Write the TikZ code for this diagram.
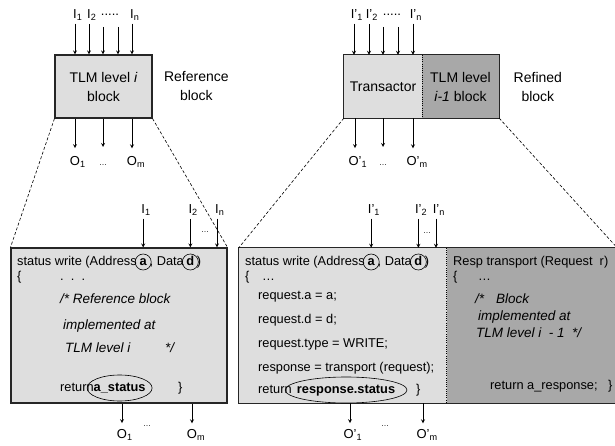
\documentclass[tikz,border=0pt]{standalone}
\usepackage{fontspec}
\setmainfont{Liberation Sans}
\usetikzlibrary{positioning,shapes.geometric}

\definecolor{lightfill}{gray}{0.87}
\definecolor{darkfill}{gray}{0.66}

\newcommand{\codesize}{\fontsize{12.8}{15}\selectfont}
\newcommand{\notesize}{\fontsize{13.5}{15}\selectfont\itshape}
\newcommand{\labelsize}{\fontsize{14}{19}\selectfont}
\newcommand{\pinsize}{\fontsize{13}{15}\selectfont}

\tikzset{
  blk/.style={draw=black!85,line width=1.1pt},
  divline/.style={dash pattern=on 1pt off 1.2pt,line width=0.8pt},
  zoomline/.style={dash pattern=on 3pt off 2pt,line width=0.6pt},
  sig/.style={->,line width=0.8pt},
  pin/.style={inner sep=3pt,font=\pinsize},
  dots/.style={inner sep=0pt,font=\fontsize{8}{8}\selectfont},
  txt/.style={inner sep=0pt,text height=9.5pt,text depth=2.5pt,font=\codesize},
  code/.style={txt,anchor=west},
  note/.style={code,font=\notesize},
  ring/.style={txt,circle,draw,line width=0.6pt,minimum size=16pt},
  oval/.style={txt,ellipse,draw,line width=0.6pt,minimum height=26pt,inner xsep=-3pt}
}

\begin{document}
\begin{tikzpicture}[x=1pt,y=-1pt,>=stealth]
  \useasboundingbox (0,0) rectangle (615,446);

  % upper blocks
  \node[blk,fill=lightfill,minimum width=97pt,minimum height=63pt,inner sep=0pt,
        font=\labelsize,align=center] (refblk) at (103.5,86.5) {TLM level \textit{i}\\block};
  \node[font=\labelsize,align=center,right=8pt of refblk] (reflbl) {Reference\\block};

  \node[fill=lightfill,minimum width=78pt,minimum height=63pt,inner sep=0pt,
        font=\labelsize] (trans) at (383,86.5) {Transactor};
  \node[fill=darkfill,minimum width=77pt,minimum height=63pt,inner sep=0pt,
        font=\labelsize,align=center] (tlm) at (460.5,86.5) {TLM level\\\textit{i-1} block};
  \draw[blk] (trans.north west) rectangle (tlm.south east);
  \draw[divline] (trans.north east) -- (trans.south east);
  \node[font=\labelsize,align=center,right=11pt of tlm] (reflbl2) {Refined\\block};

  % lower blocks
  \node[blk,fill=lightfill,minimum width=216pt,minimum height=155pt,inner sep=0pt] (lbox) at (119,325.5) {};
  \node[fill=lightfill,minimum width=208pt,minimum height=155pt,inner sep=0pt] (rbox) at (343,325.5) {};
  \node[fill=darkfill,minimum width=170pt,minimum height=155pt,inner sep=0pt] (rdark) at (532,325.5) {};
  \draw[blk] (rbox.north west) rectangle (rdark.south east);
  \draw[divline] (rdark.north west) -- (rdark.south west);

  % zoom lines
  \draw[zoomline] (refblk.south west) -- (lbox.north west);
  \draw[zoomline] (refblk.south east) -- (lbox.north east);
  \draw[zoomline] (trans.south west) -- (rbox.north west);
  \draw[zoomline] (tlm.south east) -- (rdark.north east);

  % reference block code
  \node[code] (lsw) at (17,262) {status write (Address};
  \node[ring,right=-2pt of lsw] (la) {\textbf{a}};
  \node[code,right=-2pt of la] (ldata) {, Data};
  \node[ring,right=-2pt of ldata] (ld) {\textbf{d}};
  \node[code,right=-2pt of ld] (lclose) {)};
  \node[code] (lbr) at (17,277) {\{};
  \node[code] (ldots) at (60,277) {.~~.~~.};
  \node[note] (lc1) at (60,300) {/* Reference block};
  \node[note] (lc2) at (63,326) {implemented at};
  \node[note] (lc3) at (65,349) {TLM level i};
  \node[note] (lc4) at (165,349) {*/};
  \node[code] (lret) at (60,388) {return};
  \node[oval,right=-7pt of lret] (lstat) {\textbf{a\_status}};
  \node[code] (lend) at (178,388) {\}};

  % transactor code
  \node[code] (rsw) at (245,262) {status write (Address};
  \node[ring,right=-2pt of rsw] (ra) {\textbf{a}};
  \node[code,right=-2pt of ra] (rdata) {, Data};
  \node[ring,right=-2pt of rdata] (rd) {\textbf{d}};
  \node[code,right=-2pt of rd] (rclose) {)};
  \node[code] (rbr) at (245,277) {\{};
  \node[code] (rdots) at (262,277) {\ldots};
  \node[code] (rl1) at (258,296) {request.a = a;};
  \node[code] (rl2) at (258,320) {request.d = d;};
  \node[code] (rl3) at (258,344) {request.type = WRITE;};
  \node[code] (rl4) at (258,368) {response = transport (request);};
  \node[code] (rret) at (258,390) {return};
  \node[oval,inner xsep=-6pt,right=-7pt of rret] (rstat) {\textbf{response.status}};
  \node[code] (rend) at (416,390) {\}};

  % level i-1 code
  \node[code] (dsig) at (453,262) {Resp transport (Request~~r)};
  \node[code] (dbr) at (453,277) {\{};
  \node[code] (ddots) at (478,277) {\ldots};
  \node[note] (dc1) at (475,300) {/*\hspace{12pt}Block};
  \node[note] (dc2) at (478,317) {implemented at};
  \node[note] (dc3) at (476,334) {TLM level i~~-~1~~*/};
  \node[code] (dret) at (490,386) {return a\_response;};
  \node[code] (dend) at (608,386) {\}};

  % upper left pins
  \node[pin] (ti1) at (75,15) {I\rlap{\textsubscript{1}}};
  \node[pin] (ti2) at (89,15) {I\rlap{\textsubscript{2}}};
  \node[pin] (tidots) at (110,15) {.....};
  \node[pin] (tin) at (132,15) {I\rlap{\textsubscript{n}}};
  \coordinate (ti3) at (103,27);
  \coordinate (ti4) at (118,27);
  \draw[sig] (ti1) -- (ti1 |- refblk.north);
  \draw[sig] (ti2) -- (ti2 |- refblk.north);
  \draw[sig] (ti3) -- (ti3 |- refblk.north);
  \draw[sig] (ti4) -- (ti4 |- refblk.north);
  \draw[sig] (tin) -- (tin |- refblk.north);
  \node[pin] (to1) at (75,162) {O\rlap{\textsubscript{1}}};
  \node[dots] (todots) at (103,165) {\ldots};
  \node[pin] (tom) at (132,162) {O\rlap{\textsubscript{m}}};
  \coordinate (to2) at (103,147);
  \draw[sig,shorten >=5pt] (refblk.south -| to1) -- (to1.north);
  \draw[sig] (refblk.south -| to2) -- (to2);
  \draw[sig,shorten >=5pt] (refblk.south -| tom) -- (tom.north);

  % upper right pins
  \node[pin] (si1) at (354,15) {I'\rlap{\textsubscript{1}}};
  \node[pin] (si2) at (369,15) {I'\rlap{\textsubscript{2}}};
  \node[pin] (sidots) at (392,15) {.....};
  \node[pin] (sin) at (413,15) {I'\rlap{\textsubscript{n}}};
  \coordinate (si3) at (383,27);
  \coordinate (si4) at (398,27);
  \draw[sig] (si1) -- (si1 |- trans.north);
  \draw[sig] (si2) -- (si2 |- trans.north);
  \draw[sig] (si3) -- (si3 |- trans.north);
  \draw[sig] (si4) -- (si4 |- trans.north);
  \draw[sig] (sin) -- (sin |- trans.north);
  \node[pin] (so1) at (355,162) {O'\rlap{\textsubscript{1}}};
  \node[dots] (sodots) at (383,165) {\ldots};
  \node[pin] (som) at (413,162) {O'\rlap{\textsubscript{m}}};
  \coordinate (so2) at (383,147);
  \draw[sig,shorten >=5pt] (trans.south -| so1) -- (so1.north);
  \draw[sig] (trans.south -| so2) -- (so2);
  \draw[sig,shorten >=5pt] (trans.south -| som) -- (som.north);

  % lower left pins
  \coordinate (pinrow) at (0,210);
  \node[pin] (li1) at (la |- pinrow) {I\rlap{\textsubscript{1}}};
  \node[pin] (li2) at (ld |- pinrow) {I\rlap{\textsubscript{2}}};
  \node[pin] (lin) at (217,210) {I\rlap{\textsubscript{n}}};
  \node[dots] (lidots) at (205,232) {\ldots};
  \draw[sig] (li1) -- (li1 |- lbox.north);
  \draw[sig] (li2) -- (li2 |- lbox.north);
  \draw[sig] (lin) -- (lin |- lbox.north);
  \node[pin] (lo1) at (122,435) {O\rlap{\textsubscript{1}}};
  \node[dots] (lodots) at (147,426) {\ldots};
  \node[pin] (lom) at (192,435) {O\rlap{\textsubscript{m}}};
  \draw[sig,shorten >=3pt] (lbox.south -| lo1) -- (lo1.north);
  \draw[sig,shorten >=3pt] (lbox.south -| lom) -- (lom.north);

  % lower right pins
  \node[pin] (ri1) at (ra |- pinrow) {I'\rlap{\textsubscript{1}}};
  \node[pin] (ri2) at (rd |- pinrow) {I'\rlap{\textsubscript{2}}};
  \node[pin] (rin) at (436,210) {I'\rlap{\textsubscript{n}}};
  \node[dots] (ridots) at (427,233) {\ldots};
  \draw[sig] (ri1) -- (ri1 |- rbox.north);
  \draw[sig] (ri2) -- (ri2 |- rbox.north);
  \draw[sig] (rin) -- (rin |- rbox.north);
  \node[pin] (ro1) at (350,435) {O'\rlap{\textsubscript{1}}};
  \node[dots] (rodots) at (385,426) {\ldots};
  \node[pin] (rom) at (423,435) {O'\rlap{\textsubscript{m}}};
  \draw[sig,shorten >=3pt] (rbox.south -| ro1) -- (ro1.north);
  \draw[sig,shorten >=3pt] (rbox.south -| rom) -- (rom.north);
\end{tikzpicture}
\end{document}
